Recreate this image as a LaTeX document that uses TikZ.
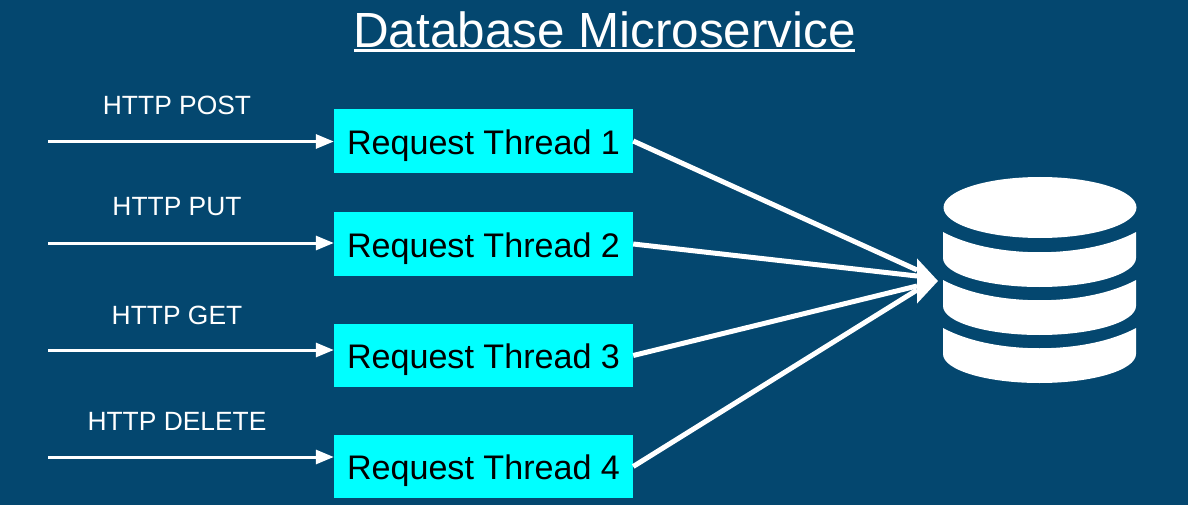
\documentclass[tikz,border=0pt]{standalone}
\usepackage{fontspec}
\setmainfont{Liberation Sans}
\usetikzlibrary{arrows.meta}
\definecolor{slidebg}{RGB}{4,71,111}
\definecolor{threadcyan}{RGB}{0,255,255}
\tikzset{
  threadbox/.style={fill=threadcyan, text=black, minimum width=299pt, minimum height=63.5pt, inner sep=0pt, text height=28.6pt, text depth=2pt, font=\fontsize{34.1}{38}\selectfont},
  httplabel/.style={text=white, inner sep=0pt, font=\fontsize{26.4}{30}\selectfont},
  httparrow/.style={draw=white, line width=3pt, -{Triangle[length=18pt,width=14pt]}},
  dbline/.style={draw=white, line width=5pt},
  dbhead/.style={draw=white, line width=5pt, -{Triangle[length=21pt,width=44pt]}},
  dbpart/.style={fill=white, draw=none}
}
\begin{document}
\begin{tikzpicture}[x=1pt, y=-1pt]

\fill [slidebg] (0,0) rectangle (1188,505);
\useasboundingbox (0,0) rectangle (1188,505);

\node [text=white, inner sep=0pt, font=\fontsize{49.4}{54}\selectfont] (title) at (604.5,30) {Database Microservice};
\draw [white, line width=3pt] (354,50.5) -- (855,50.5);

\node [threadbox] (thread1) at (483.5,141) {Request Thread 1};
\node [threadbox] (thread2) at (483.5,244) {Request Thread 2};
\node [threadbox] (thread3) at (483.5,355.5) {Request Thread 3};
\node [threadbox] (thread4) at (483.5,466.5) {Request Thread 4};

\node [httplabel] (post) at (177,105) {HTTP POST};
\node [httplabel] (put) at (177,207) {HTTP PUT};
\node [httplabel] (get) at (177,315) {HTTP GET};
\node [httplabel] (delete) at (177,421) {HTTP DELETE};

\coordinate (in1) at (48,141.5);
\coordinate (in2) at (48,243);
\coordinate (in3) at (48,350);
\coordinate (in4) at (48,457);
\coordinate (dbback1) at (917,270);
\coordinate (dbback2) at (917,276);
\coordinate (dbback3) at (917,286);
\coordinate (dbback4) at (917,290);
\coordinate (dbback) at (917,281);
\coordinate (dbin) at (938,281);

\draw [httparrow] (in1) -- (thread1.west |- in1);
\draw [httparrow] (in2) -- (thread2.west |- in2);
\draw [httparrow] (in3) -- (thread3.west |- in3);
\draw [httparrow] (in4) -- (thread4.west |- in4);

\draw [dbline] (thread1.east) -- (dbback1);
\draw [dbline] (thread2.east) -- (dbback2);
\draw [dbline] (thread3.east) -- (dbback3);
\draw [dbline] (thread4.east) -- (dbback4);
\draw [dbhead] (dbback) -- (dbin);

% database
\fill [dbpart] (1040,207.5) ellipse [x radius=96.5pt, y radius=30.5pt];
\fill [dbpart] (943,232) .. controls (993,259) and (1086,259) .. (1136,232) -- (1136,258) arc [start angle=0, end angle=-180, x radius=96.5pt, y radius=29pt] -- cycle;
\fill [dbpart] (943,280) .. controls (993,307) and (1086,307) .. (1136,280) -- (1136,306) arc [start angle=0, end angle=-180, x radius=96.5pt, y radius=29pt] -- cycle;
\fill [dbpart] (943,328) .. controls (993,355) and (1086,355) .. (1136,328) -- (1136,354) arc [start angle=0, end angle=-180, x radius=96.5pt, y radius=29pt] -- cycle;

\end{tikzpicture}
\end{document}
